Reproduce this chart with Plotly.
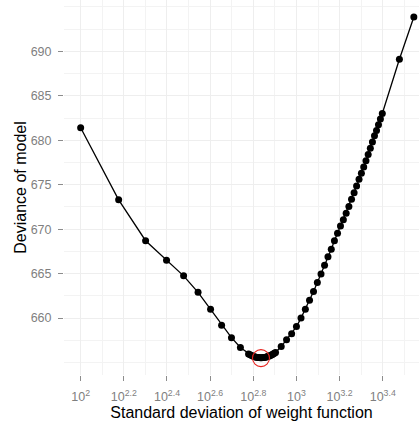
import plotly.graph_objects as go

# Standard deviation of weight function (x) and deviance of model (y)
sd_values = [100, 150, 200, 250, 300, 350, 400, 450, 500, 550,
             600, 610, 620, 630, 640, 650, 660, 670, 680, 690, 700,
             710, 720, 730, 740, 750, 760, 770, 780, 790, 800,
             850, 900, 950, 1000, 1050, 1100, 1150, 1200, 1250, 1300,
             1350, 1400, 1450, 1500, 1550, 1600, 1650, 1700, 1750, 1800,
             1850, 1900, 1950, 2000, 2050, 2100, 2150, 2200, 2250, 2300,
             2350, 2400, 2450, 2500, 3000, 3500]
deviance = [681.4, 673.3, 668.7, 666.5, 664.75, 662.9, 661.0, 659.2, 657.8, 656.7,
            655.96, 655.87, 655.78, 655.71, 655.66, 655.61, 655.58, 655.56, 655.55, 655.55, 655.56,
            655.58, 655.61, 655.65, 655.70, 655.75, 655.82, 655.88, 655.96, 656.05, 656.14,
            656.8, 657.55, 658.25, 659.05, 660.0, 661.0, 662.0, 663.0, 664.0, 664.95,
            665.95, 666.9, 667.75, 668.7, 669.55, 670.35, 671.05, 671.8, 672.55, 673.35,
            674.1, 674.85, 675.6, 676.3, 677.0, 677.7, 678.4, 679.1, 679.8, 680.5,
            681.1, 681.75, 682.4, 683.0, 689.1, 693.85]

best_sd = [685]
best_dev = [655.5]

x_tick_exps = [2, 2.2, 2.4, 2.6, 2.8, 3, 3.2, 3.4]
x_tick_labels = ["10<sup>2</sup>", "10<sup>2.2</sup>", "10<sup>2.4</sup>", "10<sup>2.6</sup>",
                 "10<sup>2.8</sup>", "10<sup>3</sup>", "10<sup>3.2</sup>", "10<sup>3.4</sup>"]
x_minor_exps = [1.9, 2.1, 2.3, 2.5, 2.7, 2.9, 3.1, 3.3, 3.5]
y_ticks = [660, 665, 670, 675, 680, 685, 690]

fig = go.Figure()
fig.add_trace(go.Scatter(
    x=sd_values, y=deviance, mode="lines+markers",
    line=dict(color="black", width=1.3),
    marker=dict(color="black", size=7),
    showlegend=False, hoverinfo="skip"))
fig.add_trace(go.Scatter(
    x=best_sd, y=best_dev, mode="markers",
    marker=dict(symbol="circle-open", color="#e8231f", size=17, line=dict(width=1.1, color="#e8231f")),
    showlegend=False, hoverinfo="skip"))

grid = "#eeeeee"
fig.update_layout(
    width=419, height=421,
    margin=dict(l=64, r=0, t=0, b=46),
    paper_bgcolor="white", plot_bgcolor="white",
    font=dict(family="Liberation Sans, Arial, sans-serif"),
    xaxis=dict(
        type="log",
        range=[1.9228, 3.568],
        tickmode="array",
        tickvals=[10 ** e for e in x_tick_exps],
        ticktext=x_tick_labels,
        ticks="outside", ticklen=5, tickcolor="#8c8c8c", tickwidth=1,
        ticklabelstandoff=5,
        tickfont=dict(size=12.5, color="#7f7f7f"),
        showgrid=True, gridcolor=grid, gridwidth=1,
        minor=dict(tickmode="array", tickvals=[10 ** e for e in x_minor_exps],
                   showgrid=True, gridcolor="#f3f3f3", gridwidth=1, ticks=""),
        zeroline=False, showline=False,
        title=dict(text="Standard deviation of weight function",
                   font=dict(size=16, color="black"), standoff=0),
    ),
    yaxis=dict(
        range=[653.6, 695.77],
        tickmode="array", tickvals=y_ticks,
        ticks="outside", ticklen=5, tickcolor="#8c8c8c", tickwidth=1,
        ticklabelstandoff=4,
        tickfont=dict(size=12.5, color="#7f7f7f"),
        showgrid=True, gridcolor=grid, gridwidth=1,
        minor=dict(tickmode="linear", tick0=655, dtick=2.5,
                   showgrid=True, gridcolor="#f3f3f3", gridwidth=1, ticks=""),
        zeroline=False, showline=False,
        title=dict(text="Deviance of model", font=dict(size=16, color="black"), standoff=0),
    ),
)

fig.write_html("out.html", config={"displayModeBar": False},
               post_script="document.body.style.margin='0';document.body.style.overflow='hidden';")
